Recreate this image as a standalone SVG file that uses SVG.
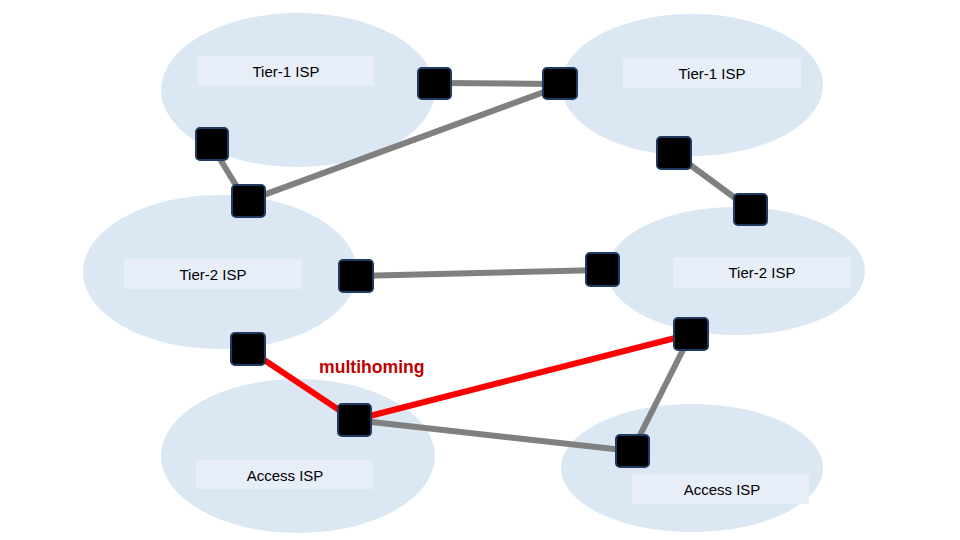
<svg xmlns="http://www.w3.org/2000/svg" width="960" height="540" viewBox="0 0 960 540">
<style>
.isp{fill:#dce7f4}
.lbl{fill:#e7eef8}
.t{font-family:"Liberation Sans",Arial,sans-serif;font-size:15px;fill:#000;text-anchor:middle}
.rt{fill:#000;stroke:#1f3a60;stroke-width:2}
.g{stroke:#808080;stroke-width:6;fill:none}
.r{stroke:#ff0000;stroke-width:6;fill:none}
.mh{font-family:"Liberation Sans",Arial,sans-serif;font-size:17.6px;font-weight:bold;fill:#c00000}
</style>
<rect width="960" height="540" fill="#fff"/>
<g id="tier1-left"><ellipse class="isp" cx="298" cy="90" rx="137" ry="77"/><rect class="lbl" x="198" y="56" width="176" height="30"/><text class="t" x="286" y="77">Tier-1 ISP</text></g>
<g id="tier1-right"><ellipse class="isp" cx="692" cy="85" rx="131" ry="71"/><rect class="lbl" x="623" y="58" width="178" height="30"/><text class="t" x="712" y="79">Tier-1 ISP</text></g>
<g id="tier2-left"><ellipse class="isp" cx="220" cy="272" rx="137" ry="77"/><rect class="lbl" x="124" y="259" width="178" height="30"/><text class="t" x="213" y="280">Tier-2 ISP</text></g>
<g id="tier2-right"><ellipse class="isp" cx="736" cy="271" rx="129" ry="64"/><rect class="lbl" x="673" y="257" width="177" height="31"/><text class="t" x="762" y="278">Tier-2 ISP</text></g>
<g id="access-left"><ellipse class="isp" cx="298" cy="456" rx="137" ry="77"/><rect class="lbl" x="196" y="460" width="177" height="29"/><text class="t" x="285" y="481">Access ISP</text></g>
<g id="access-right"><ellipse class="isp" cx="692" cy="468" rx="131" ry="64"/><rect class="lbl" x="632" y="474" width="177" height="30"/><text class="t" x="722" y="495">Access ISP</text></g>
<g id="connectors">
<line class="g" x1="440" y1="83" x2="555" y2="84"/>
<line class="g" x1="555" y1="88" x2="250" y2="200"/>
<line class="g" x1="212" y1="146" x2="245" y2="200"/>
<line class="g" x1="674" y1="153" x2="750" y2="209"/>
<line class="g" x1="356" y1="276" x2="602" y2="270"/>
<line class="g" x1="354" y1="420" x2="632" y2="451"/>
<line class="g" x1="691" y1="334" x2="632" y2="451"/>
<line class="r" x1="248" y1="349" x2="354" y2="420"/>
<line class="r" x1="354" y1="420" x2="691" y2="334"/>
</g>
<g id="routers">
<rect class="rt" x="418" y="68" width="33" height="31" rx="4"/>
<rect class="rt" x="543" y="68" width="34" height="31" rx="4"/>
<rect class="rt" x="196" y="128" width="32" height="32" rx="4"/>
<rect class="rt" x="232" y="185" width="33" height="32" rx="4"/>
<rect class="rt" x="657" y="137" width="34" height="32" rx="4"/>
<rect class="rt" x="734" y="194" width="33" height="31" rx="4"/>
<rect class="rt" x="339" y="260" width="34" height="32" rx="4"/>
<rect class="rt" x="586" y="253" width="33" height="33" rx="4"/>
<rect class="rt" x="231" y="333" width="34" height="32" rx="4"/>
<rect class="rt" x="674" y="318" width="34" height="32" rx="4"/>
<rect class="rt" x="338" y="404" width="33" height="32" rx="4"/>
<rect class="rt" x="616" y="435" width="33" height="32" rx="4"/>
</g>
<text class="mh" x="319" y="373">multihoming</text>
</svg>
